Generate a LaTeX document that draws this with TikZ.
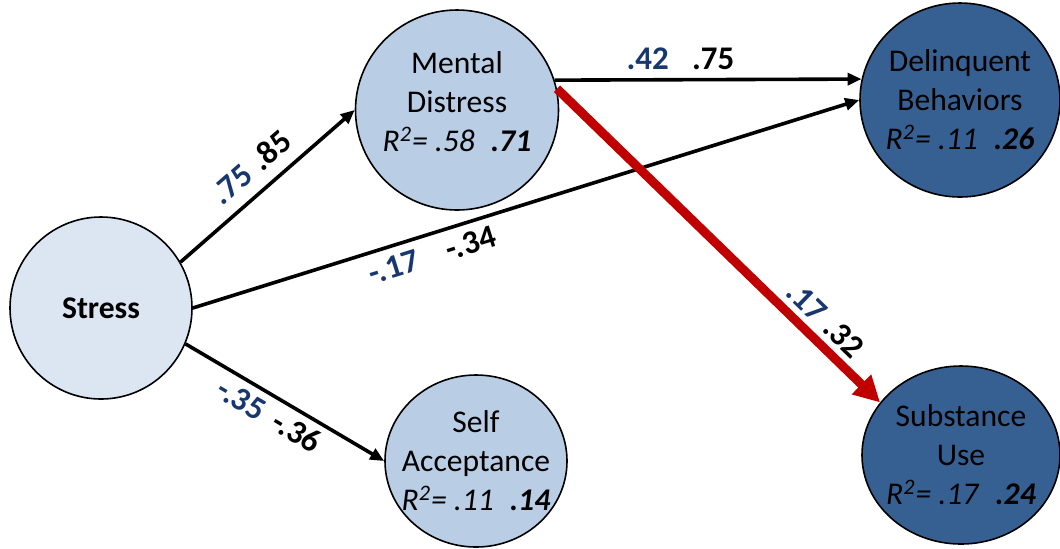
\documentclass[tikz,border=0pt]{standalone}
\usepackage{fontspec}
\setmainfont{Carlito}
\usepackage{xcolor}
\usetikzlibrary{arrows.meta,shapes.geometric}

\definecolor{palebox}{RGB}{220,230,242}
\definecolor{midbox}{RGB}{185,205,229}
\definecolor{darkbox}{RGB}{55,96,146}
\definecolor{coefblue}{RGB}{23,55,110}
\definecolor{pathred}{RGB}{192,0,0}

\newcommand{\pair}[3][0.3em]{{\color{coefblue}#2}\hspace{#1}#3}
\newcommand{\rsq}[2]{\textit{R\textsuperscript{2}= #1}\hspace{0.5em}\textbf{\textit{#2}}}

\begin{document}
\begin{tikzpicture}[x=0.5pt, y=-0.5pt,
  latent/.style={draw, ellipse, line width=0.8pt, align=center, inner sep=-8pt,
                 font=\fontsize{15.8}{19.5}\selectfont},
  arr/.style={-{Triangle[length=7pt,width=6pt]}, line width=1.8pt},
  redarr/.style={-{Triangle[length=13pt,width=13pt]}, line width=4.5pt,
                 draw=pathred},
  coef/.style={font=\fontsize{16.5}{19}\selectfont\bfseries, sloped,
               inner sep=2pt}]
\useasboundingbox (0,0) rectangle (1060,548);
\node[latent, fill=palebox, minimum width=91pt, minimum height=91pt]
  (st) at (101,308) {\textbf{Stress}};
\node[latent, fill=midbox, minimum width=101.5pt, minimum height=100pt,
      text depth=8pt]
  (md) at (457,110) {Mental\\Distress\\\rsq{.58}{.71}};
\node[latent, fill=darkbox, minimum width=100pt, minimum height=97pt]
  (db) at (960,100) {Delinquent\\Behaviors\\\rsq{.11}{.26}};
\node[latent, fill=midbox, minimum width=91pt, minimum height=86pt]
  (sa) at (476,461) {Self\\Acceptance\\\rsq{.11}{.14}};
\node[latent, fill=darkbox, minimum width=99pt, minimum height=89pt]
  (su) at (961,455) {Substance\\Use\\\rsq{.17}{.24}};
\draw[arr] (st.30) -- (md.west)
  node[coef, pos=0.5, above=4pt] {\pair{.75}{.85}};
\draw[arr] (st.east) -- (db.west)
  node[coef, pos=0.35, below=2pt] {\pair[0.9em]{-.17}{-.34}};
\draw[arr] (st.-23) -- (sa.west)
  node[coef, pos=0.47, below=1pt] {\pair[0.4em]{-.35}{-.36}};
\draw[arr] (md.17) -- (db.168.5)
  node[coef, pos=0.41, above=2pt] {\pair[0.7em]{.42}{.75}};
\draw[redarr] (md.12) -- (su.147)
  node[coef, pos=0.785, above=1pt] {\pair[0.3em]{.17}{.32}};
\end{tikzpicture}
\end{document}
